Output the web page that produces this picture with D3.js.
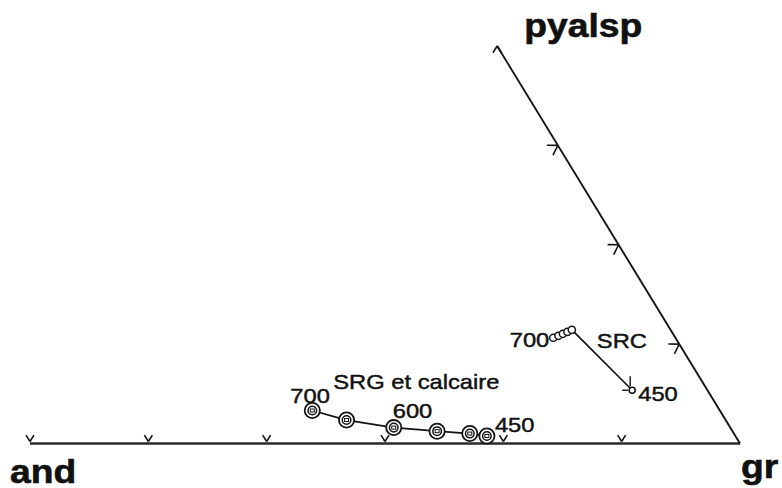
<!DOCTYPE html>
<html>
<head>
<meta charset="utf-8">
<script src="https://cdn.jsdelivr.net/npm/d3@7"></script>
<style>
  html, body { margin: 0; padding: 0; background: #fff; }
  svg { display: block; }
  text { font-family: "Liberation Sans", Arial, Helvetica, sans-serif; fill: #111; }
</style>
</head>
<body>
<svg id="chart" width="782" height="488"></svg>
<script>
// Ternary compositions in percent (and = 100 - gr - pyalsp)
const srgTemps  = [700, 650, 600, 550, 500, 450];
const srgGr     = [34.3, 40.7, 48.6, 55.3, 60.3, 63.1];
const srgPyalsp = [8.3, 5.9, 4.0, 3.1, 2.5, 1.9];

const srcTemps  = [700, 650, 600, 550, 500, 450];
const srcGr     = [56.2, 56.6, 56.9, 57.2, 57.5, 76.0];
const srcPyalsp = [26.6, 27.1, 27.6, 28.1, 28.6, 13.4];

// Tick positions along the two drawn edges
const baseTicksGr      = [0, 16.67, 33.33, 50, 66.67, 83.33];   // and–gr edge
const sideTicksPyalsp  = [25, 50, 75, 100];                     // gr–pyalsp edge

const vertexLabels = ["and", "gr", "pyalsp"];
const labelSRG = "SRG et calcaire";
const labelSRC = "SRC";

const svg = d3.select("#chart");
const ink = "#141414";
const stretch = 1.13;   // horizontal text stretch

// Horizontal offset of the apex, as a fraction of the base length
const apexShift = 0.658;
const x = d3.scaleLinear().domain([0, 100]).range([30, 740]);
const y = d3.scaleLinear().domain([0, 100]).range([443.5, 46]);
const proj = (gr, py) => [x(gr + py * apexShift), y(py)];

const A = proj(0, 0), G = proj(100, 0), P = proj(0, 100);

// Triangle edges: base and right side
svg.append("line")
  .attr("x1", A[0]).attr("y1", A[1]).attr("x2", G[0]).attr("y2", G[1])
  .attr("stroke", "#2a2a2a").attr("stroke-width", 2.3);
svg.append("line")
  .attr("x1", G[0]).attr("y1", G[1]).attr("x2", P[0]).attr("y2", P[1])
  .attr("stroke", ink).attr("stroke-width", 1.9);

// V-shaped ticks pointing into the triangle
function vTick(pt, normalAngle, len) {
  const spread = 32 * Math.PI / 180;
  [normalAngle - spread, normalAngle + spread].forEach(a => {
    svg.append("line")
      .attr("x1", pt[0]).attr("y1", pt[1])
      .attr("x2", pt[0] + len * Math.cos(a)).attr("y2", pt[1] + len * Math.sin(a))
      .attr("stroke", ink).attr("stroke-width", 1.6);
  });
}
baseTicksGr.forEach(g => {
  const p = proj(g, 0);
  vTick([p[0], p[1] - 2], -Math.PI / 2, 7.5);
});
const sdx = P[0] - G[0], sdy = P[1] - G[1];
const sideNormal = Math.atan2(-sdx, sdy);   // inward normal of the right edge
sideTicksPyalsp.forEach(py => {
  const p = proj(100 - py, py);
  if (py === 100) {
    vTick(p, Math.PI / 2, 8);
  } else {
    vTick(p, sideNormal, 11);
  }
});

// Text labels, slightly stretched horizontally
function label(txt, px, py, size, weight, anchor) {
  svg.append("text")
    .attr("transform", `translate(${px},${py}) scale(${stretch},1)`)
    .attr("font-size", size).attr("font-weight", weight || "normal")
    .attr("text-anchor", anchor || "start")
    .attr("stroke", "#111").attr("stroke-width", weight === "bold" ? 0.6 : 0.45)
    .text(txt);
}
label(vertexLabels[0], A[0] - 20, A[1] + 39, 33, "bold");
label(vertexLabels[1], G[0] + 1, G[1] + 34, 33, "bold");
label(vertexLabels[2], P[0] + 27, P[1] - 9, 33, "bold");

// SRG et calcaire path
const srg = srgTemps.map((t, i) => ({ t, p: proj(srgGr[i], srgPyalsp[i]) }));
svg.append("path")
  .attr("d", d3.line()(srg.map(d => d.p)))
  .attr("fill", "none").attr("stroke", ink).attr("stroke-width", 1.7);
const srgMarks = svg.selectAll("g.srg").data(srg).join("g")
  .attr("class", "srg")
  .attr("transform", d => `translate(${d.p[0]},${d.p[1]})`);
srgMarks.append("circle").attr("r", 7.6)
  .attr("fill", "#fff").attr("stroke", ink).attr("stroke-width", 1.8);
srgMarks.append("circle").attr("r", 4.3)
  .attr("fill", "none").attr("stroke", ink).attr("stroke-width", 1.5);
srgMarks.append("rect").attr("x", -2).attr("y", -1.5).attr("width", 4).attr("height", 3)
  .attr("fill", "none").attr("stroke", ink).attr("stroke-width", 1);

// SRC path
const src = srcTemps.map((t, i) => ({ t, p: proj(srcGr[i], srcPyalsp[i]) }));
svg.append("path")
  .attr("d", d3.line()(src.map(d => d.p)))
  .attr("fill", "none").attr("stroke", ink).attr("stroke-width", 1.6);
svg.selectAll("circle.src").data(src).join("circle")
  .attr("class", "src")
  .attr("cx", d => d.p[0]).attr("cy", d => d.p[1])
  .attr("r", (d, i) => i === src.length - 1 ? 3 : 3.6)
  .attr("fill", "#fff").attr("stroke", ink).attr("stroke-width", 1.5);
// small cross strokes at the 450 end point
const srcEnd = src[src.length - 1].p;
svg.append("line")
  .attr("x1", srcEnd[0] - 2).attr("y1", srcEnd[1] - 14)
  .attr("x2", srcEnd[0] - 2).attr("y2", srcEnd[1] - 4)
  .attr("stroke", ink).attr("stroke-width", 1.4);
svg.append("line")
  .attr("x1", srcEnd[0] - 10).attr("y1", srcEnd[1])
  .attr("x2", srcEnd[0] - 4).attr("y2", srcEnd[1])
  .attr("stroke", ink).attr("stroke-width", 1.4);

// Temperature and series labels
const s0 = srg[0].p, s2 = srg[2].p, s5 = srg[5].p;
label(srgTemps[0], s0[0] - 22, s0[1] - 8, 21);
label(labelSRG, s0[0] + 21, s0[1] - 22, 21);
label(srgTemps[2], s2[0] - 1, s2[1] - 10, 21);
label(srgTemps[5], s5[0] + 8, s5[1] - 3.5, 21);

const c0 = src[0].p, c4 = src[4].p, c5 = src[5].p;
label(srcTemps[0], c0[0] - 4, c0[1] + 9.5, 21, "normal", "end");
label(labelSRC, c4[0] + 25, c4[1] + 18.5, 21);
label(srcTemps[5], c5[0] + 6, c5[1] + 11, 21);
</script>
</body>
</html>
